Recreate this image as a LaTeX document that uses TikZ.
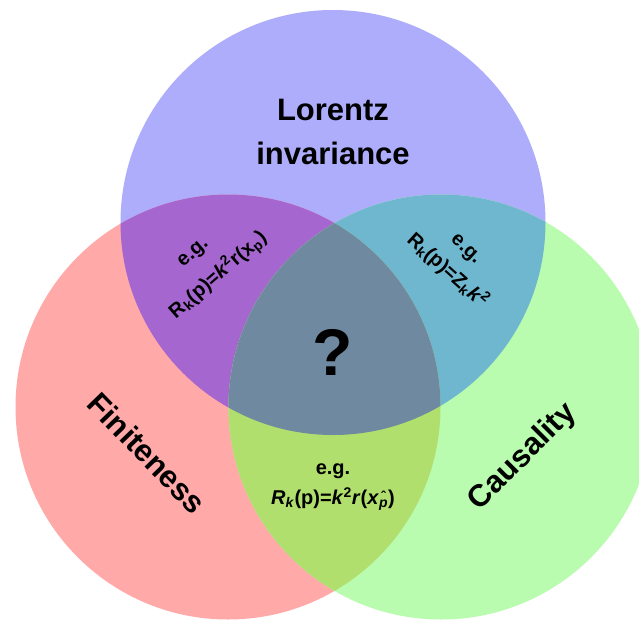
\documentclass[tikz,border=0pt]{standalone}
\usepackage{fontspec}
\setmainfont{Liberation Sans}
\definecolor{cblue}{HTML}{ADADFB}
\definecolor{cred}{HTML}{FFA9A9}
\definecolor{cgreen}{HTML}{B9FBAF}
\definecolor{cbr}{HTML}{A566CF}
\definecolor{cbg}{HTML}{6FB7CF}
\definecolor{crg}{HTML}{B1DF6E}
\definecolor{call}{HTML}{6F8AA0}
\newcommand{\hatp}{\ooalign{\textit{p}\cr\hidewidth\raisebox{0.42em}{\char"02C6}\hidewidth\cr}}
\tikzset{
  big/.style={font=\fontsize{31}{36}\selectfont\bfseries, inner sep=0pt},
  eg/.style={font=\fontsize{20}{24}\selectfont\bfseries, inner sep=0pt},
}
\begin{document}
\begin{tikzpicture}[x=1pt,y=-1pt]
\useasboundingbox (0,0) rectangle (639,621);
\fill[white] (0,0) rectangle (639,621);
\coordinate (B) at (333,222.5);
\coordinate (R) at (228,407);
\coordinate (G) at (441,407);
\def\rr{212.5}
\fill[cblue] (B) circle[radius=\rr];
\fill[cred] (R) circle[radius=\rr];
\fill[cgreen] (G) circle[radius=\rr];
\begin{scope}\clip (B) circle[radius=\rr]; \fill[cbr] (R) circle[radius=\rr];\end{scope}
\begin{scope}\clip (B) circle[radius=\rr]; \fill[cbg] (G) circle[radius=\rr];\end{scope}
\begin{scope}\clip (R) circle[radius=\rr]; \fill[crg] (G) circle[radius=\rr];\end{scope}
\begin{scope}\clip (B) circle[radius=\rr]; \clip (R) circle[radius=\rr]; \fill[call] (G) circle[radius=\rr];\end{scope}

\node[big] (lor) at (333,110) {Lorentz};
\node[big] (inv) at (333,153) {invariance};
\node[big] (fin) at (147,453) [rotate=-46] {Finiteness};
\node[big] (cau) at (523,457) [rotate=45] {Causality};
\node[font=\fontsize{66}{72}\selectfont\bfseries, inner sep=0pt] (q) at (333,352) {?};

\node[eg, rotate=41] (eg1) at (194,254) {e.g.};
\node[eg, rotate=41] (f1) at (218,275) {R\textsubscript{k}(p)=\textit{k}\textsuperscript{2}r(x\textsubscript{p})};
\node[eg, rotate=-42] (eg2) at (465,250) {e.g.};
\node[eg, rotate=-42] (f2) at (448,270) {R\textsubscript{k}(p)=Z\textsubscript{k}\textit{k}\textsuperscript{2}};
\node[eg] (eg3) at (333,471) {e.g.};
\node[eg] (f3) at (333,498) {\textit{R}\textsubscript{\textit{k}}(p)=\textit{k}\textsuperscript{2}\textit{r}(\textit{x}\textsubscript{\hatp})};
\end{tikzpicture}
\end{document}
